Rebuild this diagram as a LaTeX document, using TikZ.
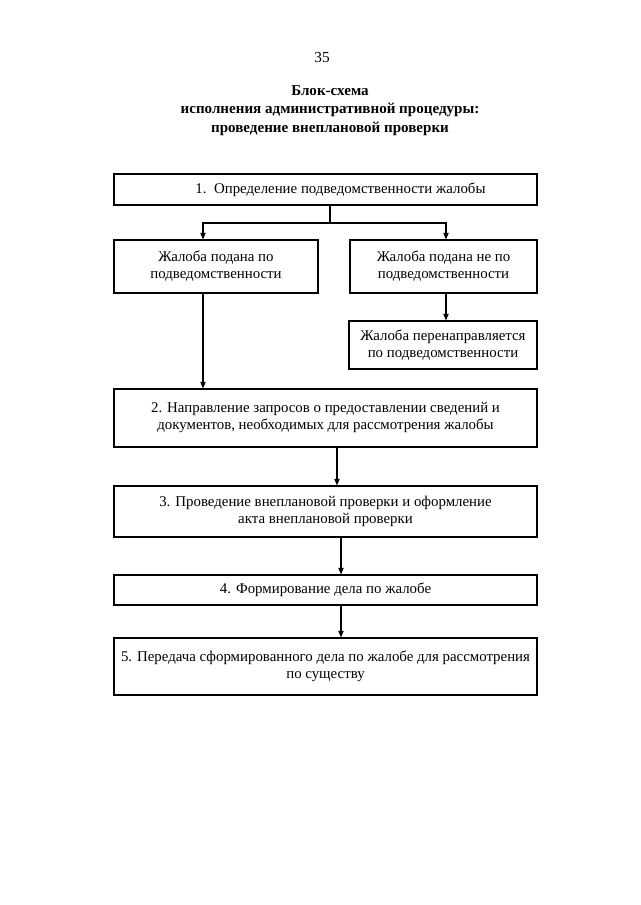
\documentclass[tikz,border=0pt]{standalone}
\usepackage{fontspec}
\setmainfont{Liberation Serif}
\usetikzlibrary{arrows.meta}
\newdimen\pxu \pxu=0.75pt
\begin{document}
\begin{tikzpicture}[x=0.75pt,y=-0.75pt,
  box/.style={draw, line width=0.8pt, inner sep=0pt, align=center,
    font=\fontsize{11.15}{12.75}\selectfont},
  arr/.style={line width=0.8pt, -{Triangle[length=5pt,width=4pt]}},
  ttl/.style={font=\fontsize{11.3}{13.9}\selectfont\bfseries, align=center}]
\useasboundingbox (0,0) rectangle (640,905);
\node[font=\fontsize{11.5}{13}\selectfont] (pg) at (322,58) {35};
\node[ttl] (title) at (330,110.5) {Блок-схема\\исполнения административной процедуры:\\проведение внеплановой проверки};
\node[box, minimum width=423*\pxu, minimum height=31*\pxu] (n1) at (325.5,189.5) {\hspace*{30\pxu}1.\ \ Определение подведомственности жалобы};
\node[box, minimum width=204*\pxu, minimum height=53*\pxu] (n2a) at (216,266.5) {Жалоба подана по\\подведомственности};
\node[box, minimum width=187*\pxu, minimum height=53*\pxu] (n2b) at (443.5,266.5) {Жалоба подана не по\\подведомственности};
\node[box, minimum width=188*\pxu, minimum height=48*\pxu] (n2c) at (443,345) {Жалоба перенаправляется\\по подведомственности};
\node[box, minimum width=423*\pxu, minimum height=58*\pxu] (n2) at (325.5,418) {2. Направление запросов о предоставлении сведений и\\документов, необходимых для рассмотрения жалобы};
\node[box, minimum width=423*\pxu, minimum height=51*\pxu] (n3) at (325.5,511.5) {3. Проведение внеплановой проверки и оформление\\акта внеплановой проверки};
\node[box, minimum width=423*\pxu, minimum height=30*\pxu] (n4) at (325.5,590) {4. Формирование дела по жалобе};
\node[box, minimum width=423*\pxu, minimum height=57*\pxu] (n5) at (325.5,666.5) {5. Передача сформированного дела по жалобе для рассмотрения\\по существу};
\coordinate (split) at (330,223);
\draw[line width=0.8pt] (n1.south -| split) -- (split);
\draw[arr] (split) -| (n2a.north -| 203,0);
\draw[arr] (split) -| (n2b.north -| 446,0);
\draw[arr] (n2b.south -| 446,0) -- (n2c.north -| 446,0);
\draw[arr] (n2a.south -| 203,0) -- (n2.north -| 203,0);
\draw[arr] (n2.south -| 337,0) -- (n3.north -| 337,0);
\draw[arr] (n3.south -| 341,0) -- (n4.north -| 341,0);
\draw[arr] (n4.south -| 341,0) -- (n5.north -| 341,0);
\end{tikzpicture}
\end{document}
